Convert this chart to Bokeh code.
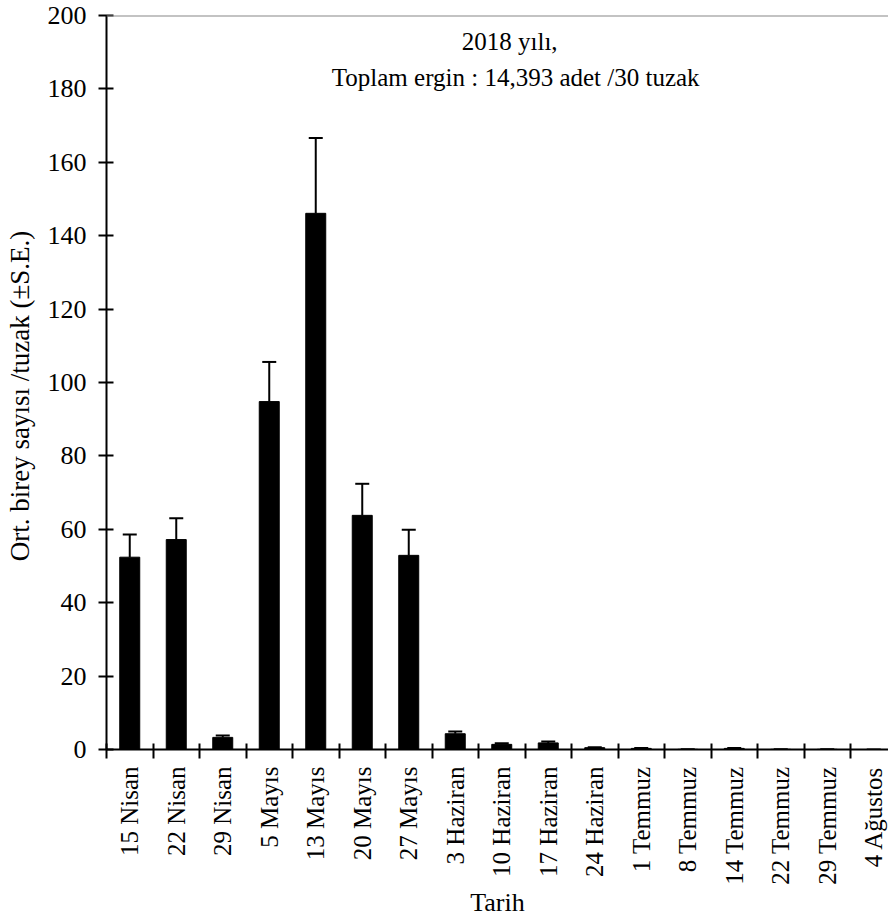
from bokeh.plotting import figure
from bokeh.models import (Range1d, FixedTicker, Whisker, TeeHead, Span, Label,
                          ColumnDataSource)
from bokeh.embed import file_html
from bokeh.resources import INLINE
import math

dates = ["15 Nisan", "22 Nisan", "29 Nisan", "5 Mayıs", "13 Mayıs", "20 Mayıs",
         "27 Mayıs", "3 Haziran", "10 Haziran", "17 Haziran", "24 Haziran",
         "1 Temmuz", "8 Temmuz", "14 Temmuz", "22 Temmuz", "29 Temmuz", "4 Ağustos"]
means = [52.4, 57.2, 3.3, 94.8, 146.1, 63.8, 52.9, 4.3, 1.4, 1.8, 0.5,
         0.3, 0.05, 0.3, 0.05, 0.05, 0.0]
se = [6.2, 5.8, 0.5, 10.8, 20.5, 8.6, 7.0, 0.6, 0.3, 0.4, 0.1,
      0.1, 0.0, 0.1, 0.0, 0.0, 0.0]
y_ticks = [0, 20, 40, 60, 80, 100, 120, 140, 160, 180, 200]
title_lines = ["2018 yılı,", "Toplam ergin : 14,393 adet /30 tuzak"]
y_title = "Ort. birey sayısı /tuzak (±S.E.)"
x_title = "Tarih"

FONT = "Liberation Serif"
n = len(dates)
xs = [i + 0.5 for i in range(n)]
upper = [m + s for m, s in zip(means, se)]

frame_w = 782
frame_h = 734
cat_px = 46.5

p = figure(output_backend="svg", toolbar_location=None,
           frame_width=frame_w, frame_height=frame_h,
           x_range=Range1d(0, frame_w / cat_px), y_range=Range1d(0, 200),
           min_border_left=106, min_border_top=15, min_border_right=0,
           min_border_bottom=4)
p.outline_line_color = None
p.xgrid.visible = False
p.ygrid.visible = False
p.background_fill_color = "white"
p.border_fill_color = "white"

src = ColumnDataSource(dict(x=xs, top=means, upper=upper, lower=means))
p.vbar(x="x", top="top", bottom=0, width=0.43, source=src,
       fill_color="black", line_color="black", line_width=1)

w = Whisker(source=src, base="x", upper="upper", lower="lower",
            line_color="black", line_width=2,
            upper_head=TeeHead(size=14, line_color="black", line_width=2),
            lower_head=None)
p.add_layout(w)

# x axis
xa = p.xaxis[0]
xa.ticker = FixedTicker(ticks=xs, minor_ticks=list(range(n + 1)))
xa.major_label_overrides = {x: d for x, d in zip(xs, dates)}
xa.major_label_orientation = math.pi / 2
xa.major_tick_line_color = None
xa.major_tick_out = 6
xa.minor_tick_line_color = "black"
xa.minor_tick_line_width = 2
xa.minor_tick_in = 6
xa.minor_tick_out = 9
xa.axis_line_width = 2
xa.axis_line_color = "black"
xa.major_label_text_font = FONT
xa.major_label_text_font_size = "25px"
xa.major_label_text_color = "black"
xa.major_label_standoff = 8
xa.axis_label = x_title
xa.axis_label_text_font = FONT
xa.axis_label_text_font_size = "26px"
xa.axis_label_text_font_style = "normal"
xa.axis_label_text_color = "black"
xa.axis_label_standoff = 0

# y axis
ya = p.yaxis[0]
ya.ticker = FixedTicker(ticks=y_ticks, minor_ticks=[])
ya.major_tick_in = 7
ya.major_tick_out = 8
ya.major_tick_line_width = 2
ya.axis_line_width = 2
ya.axis_line_color = "black"
ya.major_label_text_font = FONT
ya.major_label_text_font_size = "26px"
ya.major_label_text_color = "black"
ya.major_label_standoff = 12
# trailing no-break spaces nudge the title slightly below the frame centre
ya.axis_label = y_title + "\u00a0" * 4
ya.axis_label_text_font = FONT
ya.axis_label_text_font_size = "27px"
ya.axis_label_text_font_style = "normal"
ya.axis_label_text_color = "black"
ya.axis_label_standoff = 10

p.add_layout(Span(location=200, dimension="width", line_color="#888888", line_width=2))

p.add_layout(Label(x=8.67, y=193.0, text=title_lines[0], text_align="center",
                   text_baseline="middle", text_font=FONT, text_font_size="25px",
                   text_color="black"))
p.add_layout(Label(x=8.8, y=183.0, text=title_lines[1], text_align="center",
                   text_baseline="middle", text_font=FONT, text_font_size="25px",
                   text_color="black"))

open("out.html", "w").write(file_html(p, INLINE))
